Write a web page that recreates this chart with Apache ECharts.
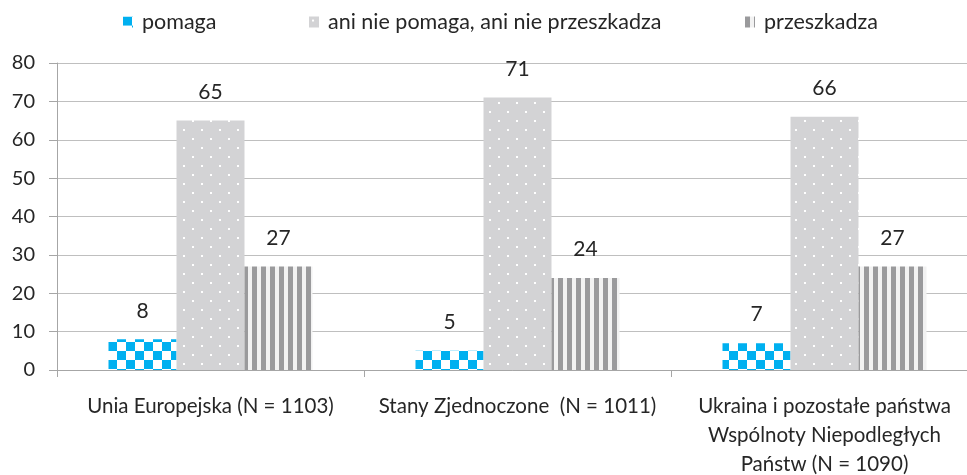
<!DOCTYPE html>
<html><head><meta charset="utf-8">
<script src="https://cdn.jsdelivr.net/npm/echarts@6/dist/echarts.min.js"></script>
<style>html,body{margin:0;padding:0;background:#fff}#c{width:967px;height:475px}</style>
</head><body><div id="c"></div>
<script>
var categories = ['Unia Europejska (N = 1103)', 'Stany Zjednoczone  (N = 1011)', 'Ukraina i pozostałe państwa\nWspólnoty Niepodległych\nPaństw (N = 1090)'];
var seriesNames = ['pomaga', 'ani nie pomaga, ani nie przeszkadza', 'przeszkadza'];
var pomaga = [8, 5, 7];
var neutral = [65, 71, 66];
var przeszkadza = [27, 24, 27];
var yTicks = [0, 10, 20, 30, 40, 50, 60, 70, 80];

function mk(w, h, draw) { var c = document.createElement('canvas'); c.width = w; c.height = h; draw(c.getContext('2d')); return c; }
var checker = mk(18, 18, function (g) { g.fillStyle = '#fff'; g.fillRect(0, 0, 18, 18); g.fillStyle = '#00B0F0'; g.fillRect(0, 0, 9, 9); g.fillRect(9, 9, 9, 9); });
var dots = mk(18, 18, function (g) { g.fillStyle = '#D3D3D5'; g.fillRect(0, 0, 18, 18); g.fillStyle = '#fff'; g.fillRect(3, 3, 2, 2); g.fillRect(12, 12, 2, 2); });
var stripes = mk(9, 4, function (g) { g.fillStyle = '#F2F2F2'; g.fillRect(0, 0, 9, 4); g.fillStyle = '#9A9A9C'; g.fillRect(0, 0, 5, 4); });
var fills = [{ image: checker, repeat: 'repeat' }, { image: dots, repeat: 'repeat' }, { image: stripes, repeat: 'repeat' }];
var data = [pomaga, neutral, przeszkadza];
var font = 'Lato, "Open Sans", sans-serif';

var chart = echarts.init(document.getElementById('c'));
var legendLefts = [123, 309, 745];
chart.setOption({
  animation: false,
  legend: seriesNames.map(function (n, i) {
    return { data: [n], left: legendLefts[i], top: 11, itemWidth: 10, itemHeight: 11, itemGap: 5, padding: 0,
      icon: 'rect', textStyle: { fontFamily: font, fontSize: 21.5, color: '#262626', padding: [0, 0, 0, 4] } };
  }),
  grid: { left: 57, right: -11, top: 63, bottom: 105, containLabel: false, outerBoundsMode: 'none' },
  xAxis: {
    type: 'category', data: categories,
    axisLine: { lineStyle: { color: '#A6A6A6', width: 1 } },
    axisTick: { show: true, length: 7, lineStyle: { color: '#A6A6A6' } },
    axisLabel: { fontFamily: font, fontSize: 20.5, color: '#262626', margin: 22, lineHeight: 29, interval: 0 }
  },
  yAxis: {
    type: 'value', min: 0, max: 80, interval: 10,
    axisLine: { show: true, lineStyle: { color: '#A6A6A6' } },
    axisTick: { show: true, length: 8, lineStyle: { color: '#A6A6A6' } },
    splitLine: { lineStyle: { color: '#BFBFBF' } },
    axisLabel: { fontFamily: font, fontSize: 20, color: '#262626', margin: 22,
      formatter: function (v) { return yTicks.indexOf(v) >= 0 ? String(v) : ''; } }
  },
  series: seriesNames.map(function (n, i) {
    return {
      name: n, type: 'bar', data: data[i], barWidth: 68, barGap: '0%',
      itemStyle: { color: fills[i] },
      label: { show: true, position: 'top', distance: 18, fontFamily: font, fontSize: 21, color: '#262626' }
    };
  })
});
</script></body></html>
